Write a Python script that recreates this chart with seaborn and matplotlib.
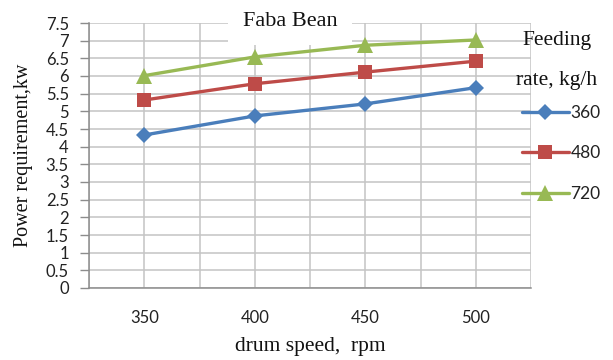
import matplotlib
matplotlib.use("Agg")
import matplotlib.pyplot as plt
from matplotlib.ticker import MultipleLocator, FixedLocator
import seaborn as sns
import pandas as pd

# ---- data ----
drum_speed = [350, 400, 450, 500]
rates = ["360", "480", "720"]
power_360 = [4.33, 4.87, 5.21, 5.67]
power_480 = [5.32, 5.78, 6.11, 6.42]
power_720 = [6.01, 6.54, 6.87, 7.02]

df = pd.DataFrame({
    "speed": drum_speed * 3,
    "power": power_360 + power_480 + power_720,
    "rate": [r for r in rates for _ in drum_speed],
})

sns.set_theme(style="white")
plt.rcParams["font.family"] = ["Lato", "DejaVu Sans"]
SERIF = ["Liberation Serif", "DejaVu Serif"]

colors = {"360": "#4A7EBB", "480": "#BE4B48", "720": "#98B954"}
markers = {"360": "D", "480": "s", "720": "^"}
msize = {"360": 8, "480": 10.5, "720": 11}

fig = plt.figure(figsize=(6.13, 3.60), dpi=100)
ax = fig.add_axes([89 / 613, 1 - 288 / 360, (531 - 89) / 613, (288 - 23) / 360])

sns.lineplot(data=df, x="speed", y="power", hue="rate", style="rate",
             palette=colors, markers=markers, dashes=False, linewidth=2.4,
             markeredgewidth=0, ax=ax, legend=False, zorder=3)

for line, r in zip(ax.lines, rates):
    line.set_markersize(msize[r])
    line.set_markeredgecolor(colors[r])

ax.set_xlim(325, 525)
ax.set_ylim(0, 7.5)
ax.xaxis.set_major_locator(FixedLocator(drum_speed))
ax.xaxis.set_minor_locator(FixedLocator([325, 375, 425, 475, 525]))
ax.yaxis.set_major_locator(MultipleLocator(0.5))
ax.set_yticklabels([("%g" % v) for v in ax.get_yticks()])

grid_c = "#C4C4C4"
ax.grid(True, which="both", axis="x", color=grid_c, linewidth=1.1)
ax.grid(True, which="major", axis="y", color=grid_c, linewidth=1.1)
for s in ["top", "right"]:
    ax.spines[s].set_visible(False)
ax.spines["left"].set_color("#8C8C8C")
ax.spines["bottom"].set_color("#8C8C8C")
ax.spines["left"].set_linewidth(1.1)
ax.spines["bottom"].set_linewidth(1.1)

ax.tick_params(axis="y", which="major", left=True, length=6.5, width=1, color="#8C8C8C",
               labelsize=12, pad=8, labelcolor="#222222")
ax.tick_params(axis="x", which="both", bottom=False, labelsize=12, pad=10,
               labelcolor="#222222")

ax.set_xlabel("drum speed,  rpm", fontsize=15.5, family=SERIF, color="#111111", labelpad=8)
ax.set_ylabel("Power requirement,kw", fontsize=14.5, family=SERIF, color="#111111")
ax.yaxis.set_label_coords((24 - 89) / 442, (288 - 155) / 265)
ax.yaxis.label.set_va("center")

fig.text(290 / 613, 1 - 21 / 360, "Faba Bean", ha="center", va="center", fontsize=16,
         family=SERIF, color="#111111",
         bbox=dict(facecolor="white", edgecolor="none", boxstyle="square,pad=0.65"))

# legend
handles = list(ax.lines[:3])
leg = ax.legend(handles, rates, loc="upper left", bbox_to_anchor=(522 / 613, 1 - 105 / 360),
                bbox_transform=fig.transFigure, frameon=False, fontsize=12.5,
                handlelength=2.7, handletextpad=0.1, labelspacing=1.4,
                borderpad=0, borderaxespad=0)
for t in leg.get_texts():
    t.set_color("#222222")
fig.text(557 / 613, 1 - 41 / 360, "Feeding", ha="center", va="center", fontsize=15.5,
         family=SERIF, color="#111111")
fig.text(557 / 613, 1 - 80 / 360, "rate, kg/h", ha="center", va="center", fontsize=15.5,
         family=SERIF, color="#111111")

fig.savefig("out.png", dpi=100)
